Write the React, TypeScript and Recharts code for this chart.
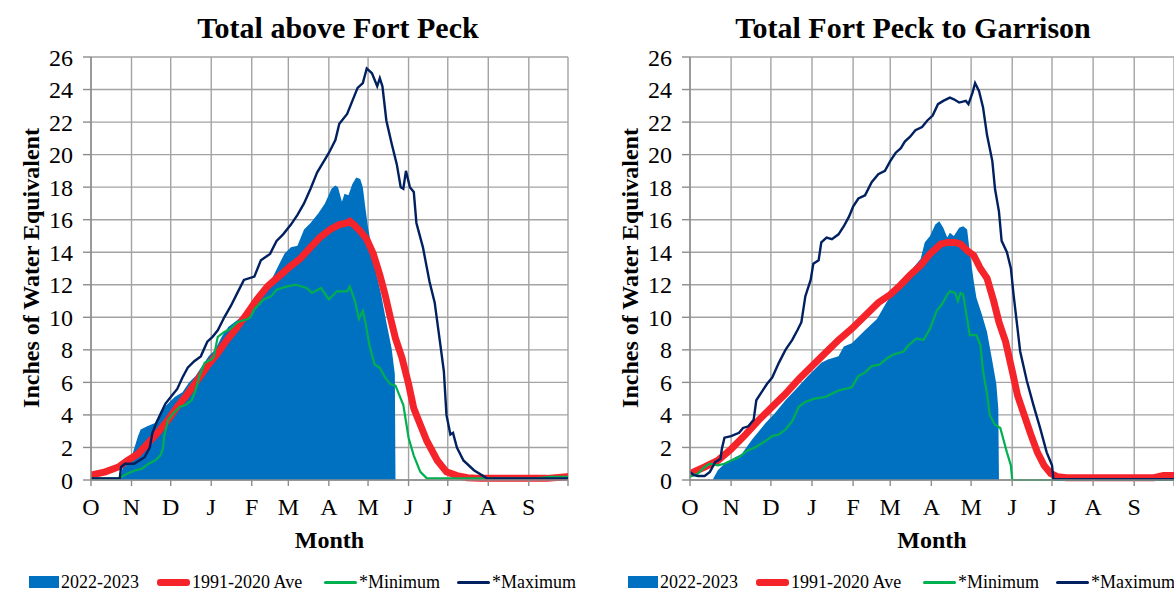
import { Area, CartesianGrid, ComposedChart, Line, XAxis, YAxis } from "recharts";

// x = day of the water year (0 = Oct 1), y = inches of water equivalent
const monthTicks = [0, 31, 61, 92, 123, 151, 182, 212, 243, 273, 304, 335, 365];
const monthLabels = ["O", "N", "D", "J", "F", "M", "A", "M", "J", "J", "A", "S", ""];
const inchTicks = [0, 2, 4, 6, 8, 10, 12, 14, 16, 18, 20, 22, 24, 26];

type Pt = [number, number];

const peckSnow: Pt[] = [
  [0, 0], [22, 0], [25, 1.0], [31, 1.4], [36, 2.7], [38, 3.1], [43, 3.3], [49, 3.5], [54, 4.3],
  [59, 4.7], [64, 5.1], [70, 5.4], [75, 6.0], [80, 6.4], [85, 7.0], [90, 7.6], [95, 8.0],
  [100, 8.8], [105, 9.4], [113, 9.9], [118, 10.3], [123, 10.7], [128, 10.9], [133, 11.9],
  [138, 12.3], [143, 13.1], [148, 13.9], [153, 14.3], [158, 14.4], [163, 15.4], [168, 15.8],
  [174, 16.4], [179, 17.0], [184, 17.9], [187, 18.1], [189, 18.0], [192, 17.1], [194, 17.6],
  [197, 17.5], [200, 18.2], [203, 18.6], [206, 18.5], [208, 18.0], [210, 16.7], [212, 15.5],
  [215, 14.2], [218, 12.8], [222, 11.4], [226, 9.7], [230, 8.1], [232.5, 6.5], [233, 0],
];
const peckAvg: Pt[] = [
  [0, 0.3], [11, 0.5], [21, 0.8], [28, 1.2], [36, 1.6], [44, 2.3], [51, 2.9], [59, 3.7],
  [66, 4.5], [74, 5.3], [82, 6.2], [89, 7.0], [97, 7.8], [104, 8.6], [112, 9.4], [120, 10.3],
  [127, 11.1], [135, 11.9], [145, 12.6], [152, 13.1], [160, 13.6], [168, 14.3], [175, 14.9],
  [183, 15.4], [190, 15.7], [196, 15.8], [198, 15.9], [201, 15.7], [206, 15.3], [211, 14.8],
  [216, 13.9], [221, 12.6], [225, 11.4], [229, 10.0], [233, 8.7], [238, 7.5], [243, 5.9],
  [247, 4.4], [252, 3.4], [257, 2.4], [265, 1.2], [272, 0.5], [280, 0.27], [288, 0.14],
  [298, 0.1], [349, 0.1], [364, 0.2], [365, 0.2],
];
const peckMin: Pt[] = [
  [0, 0.1], [21, 0.1], [28, 0.4], [34, 0.6], [39, 0.7], [44, 1.0], [49, 1.2], [53, 1.5],
  [55, 1.9], [56, 2.7], [59, 3.7], [63, 4.1], [68, 4.5], [72, 4.6], [77, 4.9], [80, 5.5],
  [83, 6.4], [87, 7.2], [92, 7.4], [94, 7.6], [97, 8.8], [102, 9.1], [107, 9.3], [112, 9.7],
  [120, 9.9], [122, 10.0], [125, 10.5], [132, 11.1], [138, 11.3], [142, 11.7], [150, 11.9],
  [157, 12.0], [165, 11.8], [169, 11.5], [176, 11.8], [182, 11.1], [188, 11.6], [196, 11.6],
  [198, 11.9], [202, 11.0], [205, 9.9], [208, 10.4], [210, 9.7], [213, 8.3], [217, 7.1],
  [221, 6.9], [225, 6.3], [229, 5.9], [233, 5.8], [239, 4.6], [243, 2.6], [247, 1.5],
  [252, 0.5], [257, 0.1], [340, 0.1], [352, 0.2], [365, 0.2],
];
const peckMax: Pt[] = [
  [0, 0.1], [22, 0.1], [23, 0.8], [26, 1.0], [33, 1.0], [37, 1.2], [41, 1.4], [45, 2.0],
  [47, 2.9], [50, 3.5], [54, 4.2], [57, 4.7], [63, 5.3], [66, 5.6], [70, 6.3], [74, 6.9],
  [79, 7.3], [84, 7.6], [89, 8.5], [93, 8.8], [97, 9.2], [102, 10.0], [107, 10.7], [112, 11.5],
  [117, 12.3], [125, 12.5], [130, 13.5], [137, 13.9], [142, 14.7], [147, 15.1], [153, 15.7],
  [158, 16.3], [163, 17.0], [168, 17.9], [173, 18.9], [182, 20.1], [187, 20.9], [190, 21.9],
  [196, 22.5], [200, 23.3], [204, 24.1], [208, 24.4], [211, 25.3], [215, 25.0], [219, 24.2],
  [221, 24.7], [223, 24.2], [226, 22.1], [230, 20.7], [234, 19.4], [237, 18.0], [239, 17.9],
  [241, 19.0], [244, 18.0], [247, 17.7], [249, 15.8], [254, 14.3], [259, 12.2], [263, 10.9],
  [267, 8.5], [270, 6.7], [272, 4.0], [275, 2.8], [277, 2.9], [280, 2.0], [285, 1.2],
  [293, 0.6], [303, 0.1], [365, 0.1],
];

const garrSnow: Pt[] = [
  [0, 0], [17, 0], [21, 0.6], [26, 1.0], [34, 1.4], [39, 1.6], [47, 2.5], [57, 3.5], [64, 4.1],
  [72, 4.9], [79, 5.5], [89, 6.4], [99, 7.2], [104, 7.4], [112, 7.6], [116, 8.2], [122, 8.4],
  [132, 9.2], [141, 9.9], [148, 10.9], [156, 11.8], [164, 12.5], [169, 13.1], [174, 13.6],
  [177, 14.6], [181, 15.0], [185, 15.7], [188, 15.9], [191, 15.5], [194, 14.9], [196, 15.2],
  [199, 15.0], [203, 15.5], [206, 15.6], [209, 15.4], [211, 14.0], [214, 12.2], [216, 11.2],
  [220, 10.2], [224, 9.1], [228, 7.3], [231, 5.9], [232.5, 4.4], [233, 0],
];
const garrAvg: Pt[] = [
  [0, 0.4], [11, 0.8], [21, 1.2], [31, 1.9], [42, 2.8], [52, 3.7], [62, 4.5], [72, 5.3],
  [82, 6.2], [92, 7.0], [102, 7.8], [112, 8.6], [122, 9.3], [132, 10.1], [142, 10.9],
  [151, 11.4], [159, 12.0], [166, 12.6], [174, 13.2], [181, 13.9], [189, 14.5], [194, 14.6],
  [200, 14.6], [204, 14.5], [209, 14.1], [214, 13.8], [219, 13.0], [224, 12.4], [229, 11.0],
  [233, 9.7], [238, 8.5], [243, 6.7], [247, 5.2], [252, 4.0], [257, 2.8], [262, 1.7],
  [267, 0.9], [272, 0.4], [277, 0.2], [284, 0.14], [350, 0.14], [357, 0.27], [365, 0.27],
];
const garrMin: Pt[] = [
  [0, 0.2], [6, 0.4], [11, 0.8], [15, 1.0], [21, 0.9], [26, 1.0], [31, 1.2], [37, 1.4],
  [43, 1.8], [49, 2.0], [57, 2.4], [62, 2.7], [67, 2.8], [72, 3.1], [77, 3.6], [82, 4.5],
  [87, 4.8], [94, 5.0], [102, 5.1], [107, 5.3], [112, 5.5], [122, 5.7], [127, 6.4], [132, 6.6],
  [137, 7.0], [143, 7.1], [149, 7.5], [153, 7.7], [161, 7.9], [165, 8.3], [171, 8.7],
  [176, 8.6], [181, 9.3], [186, 10.4], [190, 10.8], [194, 11.4], [196, 11.6], [200, 11.5],
  [202, 11.0], [204, 11.5], [206, 11.4], [209, 9.9], [211, 8.9], [216, 8.9], [219, 8.3],
  [221, 6.7], [224, 5.3], [226, 4.0], [230, 3.4], [234, 3.2], [239, 1.7], [242, 0.9],
  [243, 0], [365, 0],
];
const garrMax: Pt[] = [
  [0, 0.5], [3, 0.3], [6, 0.25], [11, 0.25], [15, 0.5], [19, 1.1], [23, 1.3], [24, 1.9],
  [26, 2.6], [31, 2.7], [37, 2.9], [40, 3.2], [44, 3.3], [48, 3.7], [50, 4.9], [54, 5.4],
  [58, 5.9], [62, 6.3], [67, 7.2], [72, 8.0], [77, 8.6], [81, 9.2], [84, 9.7], [87, 11.3],
  [91, 12.3], [93, 13.3], [97, 13.5], [99, 14.6], [103, 14.9], [107, 14.8], [112, 15.1],
  [116, 15.6], [120, 16.2], [123, 16.8], [127, 17.3], [132, 17.5], [137, 18.3], [142, 18.8],
  [147, 19.0], [151, 19.6], [155, 20.1], [159, 20.4], [162, 20.8], [166, 21.1], [170, 21.5],
  [175, 21.7], [179, 22.1], [183, 22.4], [187, 23.1], [191, 23.3], [196, 23.5], [199, 23.4],
  [203, 23.2], [208, 23.3], [210, 23.1], [213, 23.8], [215, 24.4], [218, 23.9], [221, 22.9],
  [224, 21.2], [228, 19.6], [230, 17.9], [233, 16.5], [235, 14.7], [239, 14.0], [242, 13.0],
  [244, 11.4], [247, 9.3], [249, 7.9], [254, 6.1], [259, 4.6], [264, 3.2], [269, 1.7],
  [273, 0.9], [274, 0.05], [365, 0.05],
];

const FONT = '"Liberation Serif", "Times New Roman", serif';
const BLUE = "#0070c0";
const RED = "#f5232a";
const GREEN = "#00b050";
const NAVY = "#002060";
const GRID = "#a3a3a3";

const toRows = (s: Pt[]) => s.map(([day, v]) => ({ day, v }));

function LegendItem({ x, color, kind, label }: { x: number; color: string; kind: "box" | "thick" | "thin"; label: string }) {
  const mark =
    kind === "box" ? (
      <div style={{ width: 30, height: 12, background: color }} />
    ) : (
      <div style={{ width: 33, height: kind === "thick" ? 7 : 3, background: color, borderRadius: 3 }} />
    );
  return (
    <div style={{ position: "absolute", left: x, top: 570, height: 24, display: "flex", alignItems: "center", whiteSpace: "nowrap" }}>
      {mark}
      <span style={{ fontSize: 18, marginLeft: 2, color: "#000" }}>{label}</span>
    </div>
  );
}

function Panel({
  left,
  width,
  title,
  titleCenter,
  snow,
  avg,
  min,
  max,
}: {
  left: number;
  width: number;
  title: string;
  titleCenter: number;
  snow: Pt[];
  avg: Pt[];
  min: Pt[];
  max: Pt[];
}) {
  const plotLeft = 91;
  const plotRight = width === 587 ? 568 : width;
  const plotCenter = (plotLeft + plotRight) / 2;
  return (
    <div style={{ position: "absolute", left, top: 0, width, height: 592 }}>
      <div
        style={{
          position: "absolute",
          left: titleCenter,
          top: 10,
          transform: "translateX(-50%)",
          fontSize: 30,
          fontWeight: "bold",
          whiteSpace: "nowrap",
          lineHeight: "36px",
        }}>
        {title}
      </div>
      <div
        style={{
          position: "absolute",
          left: 31,
          top: 268,
          transform: "translate(-50%, -50%) rotate(-90deg)",
          fontSize: 24,
          fontWeight: "bold",
          whiteSpace: "nowrap",
        }}>
        Inches of Water Equivalent
      </div>
      <div
        style={{
          position: "absolute",
          left: plotCenter,
          top: 526,
          transform: "translateX(-50%)",
          fontSize: 24,
          fontWeight: "bold",
          lineHeight: "28px",
        }}>
        Month
      </div>
      <div style={{ position: "absolute", left: 0, top: 0 }}>
        <ComposedChart
          width={width}
          height={592}
          margin={{ top: 57, right: width - plotRight, bottom: 72, left: 31 }}>
          <CartesianGrid stroke={GRID} strokeWidth={1.4} horizontalValues={inchTicks} verticalValues={monthTicks} />
          <XAxis
            type="number"
            dataKey="day"
            domain={[0, 365]}
            ticks={monthTicks}
            interval={0}
            allowDataOverflow
            height={40}
            tickFormatter={(d: number) => monthLabels[monthTicks.indexOf(d)] ?? ""}
            tick={{ fontSize: 24, fill: "#000", fontFamily: FONT }}
            tickSize={6}
            tickMargin={12}
            stroke="#8c8c8c"
            strokeWidth={1.4}
          />
          <YAxis
            type="number"
            domain={[0, 26]}
            ticks={inchTicks}
            interval={0}
            width={60}
            tick={{ fontSize: 24, fill: "#000", fontFamily: FONT }}
            tickSize={8}
            tickMargin={10}
            stroke="#8c8c8c"
            strokeWidth={1.4}
          />
          <Area
            data={toRows(snow)}
            dataKey="v"
            type="linear"
            fill={BLUE}
            fillOpacity={1}
            stroke="none"
            isAnimationActive={false}
          />
          <Line data={toRows(avg)} dataKey="v" type="linear" stroke={RED} strokeWidth={7} dot={false} isAnimationActive={false} />
          <Line data={toRows(min)} dataKey="v" type="linear" stroke={GREEN} strokeWidth={2.2} dot={false} isAnimationActive={false} />
          <Line data={toRows(max)} dataKey="v" type="linear" stroke={NAVY} strokeWidth={2.4} dot={false} isAnimationActive={false} />
        </ComposedChart>
      </div>
      <LegendItem x={29} color={BLUE} kind="box" label="2022-2023" />
      <LegendItem x={157} color={RED} kind="thick" label="1991-2020 Ave" />
      <LegendItem x={324} color={GREEN} kind="thin" label="*Minimum" />
      <LegendItem x={457} color={NAVY} kind="thin" label="*Maximum" />
    </div>
  );
}

export default function App() {
  return (
    <div
      style={{
        position: "absolute",
        left: 0,
        top: 0,
        width: 1174,
        height: 592,
        overflow: "hidden",
        background: "#fff",
        fontFamily: FONT,
        color: "#000",
      }}>
      <Panel left={0} width={587} title="Total above Fort Peck" titleCenter={338} snow={peckSnow} avg={peckAvg} min={peckMin} max={peckMax} />
      <Panel left={599} width={575} title="Total Fort Peck to Garrison" titleCenter={314} snow={garrSnow} avg={garrAvg} min={garrMin} max={garrMax} />
    </div>
  );
}
